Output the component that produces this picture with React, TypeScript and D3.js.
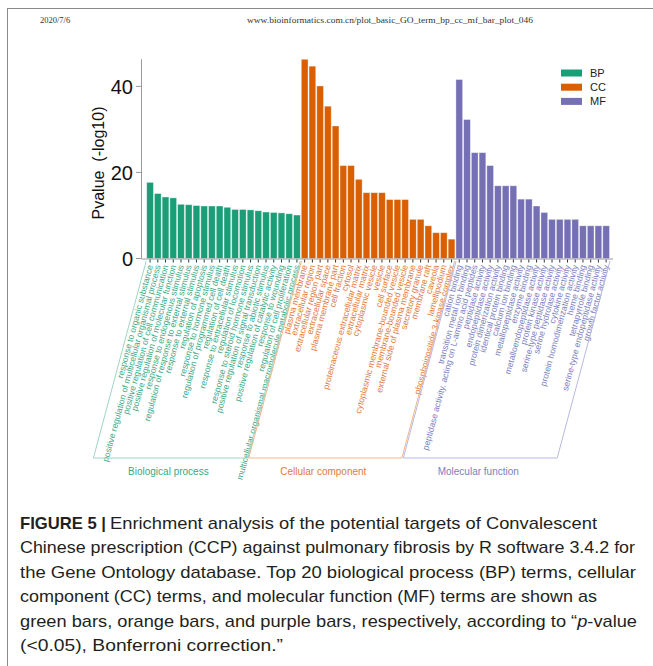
import React from "react";
import * as d3 from "d3";

const bpTerms = [
  "response to organic substance",
  "positive regulation of multicellular organismal process",
  "positive regulation of cell communication",
  "positive regulation of molecular function",
  "response to endogenous stimulus",
  "regulation of response to external stimulus",
  "response to external stimulus",
  "regulation of apoptosis",
  "response to hormone stimulus",
  "regulation of programmed cell death",
  "regulation of cell death",
  "response to extracellular stimulus",
  "regulation of locomotion",
  "response to steroid hormone stimulus",
  "positive regulation of signal transduction",
  "response to abiotic stimulus",
  "positive regulation of catalytic activity",
  "response to wounding",
  "regulation of cell proliferation",
  "multicellular organismal macromolecule metabolic process",
];
const bpValues = [17.7, 15.1, 14.3, 14.1, 12.6, 12.5, 12.3, 12.2, 12.2, 12.2, 11.9, 11.4, 11.4, 11.3, 11.1, 10.8, 10.7, 10.6, 10.4, 10.1];

const ccTerms = [
  "plasma membrane",
  "extracellular region",
  "extracellular region part",
  "extracellular space",
  "plasma membrane part",
  "cell fraction",
  "cytosol",
  "proteinaceous extracellular matrix",
  "extracellular matrix",
  "cytoplasmic vesicle",
  "vesicle",
  "cell surface",
  "cytoplasmic membrane-bounded vesicle",
  "membrane-bounded vesicle",
  "external side of plasma membrane",
  "secretory granule",
  "membrane raft",
  "caveola",
  "lamellipodium",
  "phosphoinositide 3-kinase complex",
];
const ccValues = [46.3, 44.7, 40.1, 35.4, 30.8, 21.6, 21.6, 18.4, 15.3, 15.3, 15.3, 13.7, 13.7, 13.7, 9.1, 9.1, 7.6, 6.0, 6.0, 4.5];

const mfTerms = [
  "cation binding",
  "transition metal ion binding",
  "peptidase activity, acting on L-amino acid peptides",
  "peptidase activity",
  "endopeptidase activity",
  "protein dimerization activity",
  "identical protein binding",
  "calcium ion binding",
  "metallopeptidase activity",
  "enzyme binding",
  "metalloendopeptidase activity",
  "protein kinase activity",
  "serine-type peptidase activity",
  "serine hydrolase activity",
  "cytokine activity",
  "protein homodimerization activity",
  "heme binding",
  "tetrapyrrole binding",
  "serine-type endopeptidase activity",
  "growth factor activity",
];
const mfValues = [41.6, 32.3, 24.6, 24.6, 21.6, 16.9, 16.9, 16.9, 13.8, 13.8, 12.2, 10.7, 9.1, 9.1, 9.1, 9.1, 7.6, 7.6, 7.6, 7.6];

const groupKeys = ["BP", "CC", "MF"];
const groupNames = ["Biological process", "Cellular component", "Molecular function"];
const yTicks = [0, 20, 40];

const captionLines = [
  "Enrichment analysis of the potential targets of Convalescent",
  "Chinese prescription (CCP) against pulmonary fibrosis by R software 3.4.2 for",
  "the Gene Ontology database. Top 20 biological process (BP) terms, cellular",
  "component (CC) terms, and molecular function (MF) terms are shown as",
  "green bars, orange bars, and purple bars, respectively, according to \u201C|p|-value",
  "(<0.05), Bonferroni correction.\u201D",
];
const captionWidths = [487, 615, 616, 577, 617, 263];

const barColors = ["#1b9e77", "#d95f02", "#7570b3"];
const textColors = ["#3aa883", "#e3793a", "#7a7ec0"];
const lineColors = ["#9fd6c3", "#f2b68c", "#b7b9e2"];

type Row = { term: string; value: number; g: number; i: number };

export default function App() {
  const groups = [
    { terms: bpTerms, values: bpValues },
    { terms: ccTerms, values: ccValues },
    { terms: mfTerms, values: mfValues },
  ];
  const rows: Row[] = [];
  groups.forEach((gr, g) =>
    gr.terms.forEach((t, k) => rows.push({ term: t, value: gr.values[k], g, i: rows.length }))
  );

  const x = d3
    .scaleBand<number>()
    .domain(rows.map((r) => r.i))
    .range([146.2, 610])
    .paddingInner(0.13)
    .paddingOuter(0.065);
  const maxV = d3.max(rows, (r) => r.value) as number;
  const y = d3.scaleLinear().domain([0, maxV]).range([258.5, 59.3]);

  const axisY = 259;
  const topY = 261;
  const botY = 458;
  const slope = 0.268;
  const off = (botY - topY) * slope;
  const step = x.step();
  const x0 = 146.2;

  let start = 0;
  const brackets = groups.map((gr, g) => {
    const s = start;
    const e = start + gr.terms.length;
    start = e;
    const xl = x0 + s * step + (g === 0 ? 0 : 0.7);
    const xr = x0 + e * step - (g === 2 ? 0 : 0.7);
    const path = `M${xl},${topY}L${xl - off},${botY}L${xr - off},${botY}L${xr},${topY}`;
    return { path, cx: (xl + xr) / 2 - off - 2, g };
  });

  return (
    <svg
      width={653}
      height={666}
      style={{ position: "absolute", left: 0, top: 0, background: "#fff" }}
      fontFamily="'Liberation Sans', Arial, sans-serif"
    >
      <rect x={0} y={0} width={653} height={666} fill="#fff" />
      {/* page frame */}
      <line x1={7} y1={8.5} x2={653} y2={8.5} stroke="#8a8a8a" strokeWidth={1} />
      <line x1={7.5} y1={8} x2={7.5} y2={666} stroke="#8a8a8a" strokeWidth={1} />
      <text x={40} y={23} fontFamily="'Liberation Serif', 'Times New Roman', serif" fontSize={8.5} fill="#333">
        2020/7/6
      </text>
      <text
        x={247}
        y={23}
        fontFamily="'Liberation Serif', 'Times New Roman', serif"
        fontSize={8.5}
        fill="#333"
        textLength={286}
        lengthAdjust="spacingAndGlyphs"
      >
        www.bioinformatics.com.cn/plot_basic_GO_term_bp_cc_mf_bar_plot_046
      </text>

      {/* bars */}
      {rows.map((r) => (
        <rect
          key={r.i}
          x={x(r.i)}
          y={y(r.value)}
          width={x.bandwidth()}
          height={y(0) - y(r.value)}
          fill={barColors[r.g]}
          stroke="#ffffff"
          strokeOpacity={0.45}
          strokeWidth={0.8}
        />
      ))}

      {/* y axis */}
      <line x1={141.5} y1={y(0)} x2={141.5} y2={y(maxV)} stroke="#9a9a9a" strokeWidth={1} />
      {yTicks.map((t) => (
        <g key={t}>
          <line x1={136} x2={141.5} y1={y(t)} y2={y(t)} stroke="#9a9a9a" strokeWidth={1} />
          <text x={133} y={y(t)} dy="0.36em" textAnchor="end" fontSize={20} fill="#111">
            {t}
          </text>
        </g>
      ))}
      <text
        transform={`translate(104,163) rotate(-90)`}
        textAnchor="middle"
        fontSize={16}
        fill="#111"
        style={{ whiteSpace: "pre" }}
      >
        {"Pvalue\u00A0\u00A0(-log10)"}
      </text>

      {/* x axis */}
      <line x1={141.5} x2={613} y1={axisY} y2={axisY} stroke="#9a9a9a" strokeWidth={1} />
      {rows.map((r) => {
        const cx = (x(r.i) as number) + x.bandwidth() / 2;
        return <line key={r.i} x1={cx} x2={cx} y1={axisY + 0.5} y2={axisY + 3.5} stroke="#333" strokeWidth={1} />;
      })}

      {/* term labels */}
      {rows.map((r) => {
        const cx = (x(r.i) as number) + x.bandwidth() / 2;
        return (
          <text
            key={r.i}
            transform={`translate(${cx},${265}) rotate(-75)`}
            textAnchor="end"
            dy="0.35em"
            fontSize={8.6}
            fill={textColors[r.g]}
          >
            {r.term}
          </text>
        );
      })}

      {/* brackets */}
      {brackets.map((b) => (
        <g key={b.g}>
          <path d={b.path} fill="none" stroke={lineColors[b.g]} strokeWidth={1} />
          <text x={b.cx} y={475} textAnchor="middle" fontSize={10} fill={textColors[b.g]}>
            {groupNames[b.g]}
          </text>
        </g>
      ))}

      {/* legend */}
      {groupKeys.map((k, g) => (
        <g key={k}>
          <rect x={561} y={69.5 + g * 14.2} width={21} height={7} fill={barColors[g]} />
          <text x={590} y={73 + g * 14.2} dy="0.35em" fontSize={11} fill="#222">
            {k}
          </text>
        </g>
      ))}

      {/* caption */}
      <text x={20} y={529} fontSize={17} fontWeight="bold" fill="#231f20" textLength={86} lengthAdjust="spacingAndGlyphs">
        FIGURE 5 |
      </text>
      {captionLines.map((line, k) => {
        const parts = line.split("|");
        return (
          <text
            key={k}
            x={k === 0 ? 110 : 20}
            y={529 + k * 24.4}
            fontSize={17}
            fill="#231f20"
            textLength={captionWidths[k]}
            lengthAdjust="spacingAndGlyphs"
          >
            {parts.map((p, j) => (
              <tspan key={j} fontStyle={j % 2 === 1 ? "italic" : "normal"}>
                {p}
              </tspan>
            ))}
          </text>
        );
      })}
    </svg>
  );
}
